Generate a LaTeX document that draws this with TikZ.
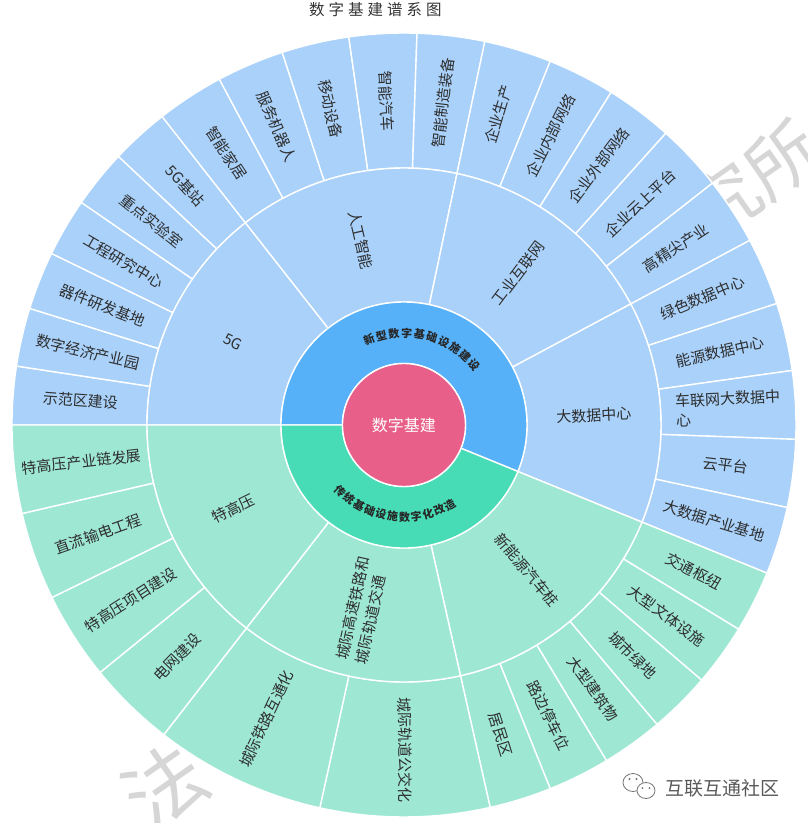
\documentclass[tikz,border=0pt]{standalone}
\usepackage{fontspec}
\setmainfont{Noto Sans CJK SC}
\usetikzlibrary{calc}
\pgfdeclarelayer{wm}
\pgfdeclarelayer{bg}
\pgfdeclarelayer{fg}
\pgfsetlayers{wm,bg,main,fg}
\definecolor{pinkc}{HTML}{E8608A}
\definecolor{blueii}{HTML}{56B1F9}
\definecolor{tealii}{HTML}{47DCB5}
\definecolor{blueo}{HTML}{A9D1FA}
\definecolor{tealo}{HTML}{9EE8D3}
\definecolor{txt}{HTML}{2E2E2E}
\newcommand\sbsector[5]{%
  \filldraw[fill=#1, draw=white, line width=1.4pt, line join=round]
    (#4:#2pt) arc[start angle=#4, end angle=#5, radius=#2pt]
    -- (#5:#3pt) arc[start angle=#5, end angle=#4, radius=#3pt] -- cycle;}
\newcommand\sbitem[8]{%
  \begin{pgfonlayer}{bg}\sbsector{#2}{#3}{#4}{#5}{#6}\end{pgfonlayer}
  \pgfmathsetmacro\sbmid{(#5+#6)/2}
  \pgfmathsetmacro\sbr{(#3+#4)/2}
  \pgfmathsetmacro\sbrot{cos(\sbmid)>=0 ? \sbmid : \sbmid+180}
  \node[lbl, rotate=\sbrot, #8] (#1) at (\sbmid:\sbr pt) {#7};}
\begin{document}
\begin{tikzpicture}[x=1pt,y=1pt,
  lbl/.style={font=\fontsize{15}{20}\selectfont, text=txt, inner sep=0pt, align=left},
  arclbl/.style={font=\fontsize{11}{12}\selectfont\bfseries, text=black!85, inner sep=0pt},
  titlelbl/.style={font=\fontsize{15.5}{17}\selectfont, text=black!80, inner sep=0pt},
  wmark/.style={font=\fontsize{72}{80}\selectfont, text=black!16, inner sep=0pt},
  brand/.style={font=\fontsize{19}{21}\selectfont, text=black!65, inner sep=0pt}]
\useasboundingbox (-404,-398) rectangle (404,425);
% title
\node[titlelbl] (title) at (-28.5,415) {数\hspace{4pt}字\hspace{4pt}基\hspace{4pt}建\hspace{4pt}谱\hspace{4pt}系\hspace{4pt}图};
% outer ring: 新型数字基础设施建设
\sbitem{o1}{blueo}{257}{392}{180}{171.35}{示范区建设}{}
\sbitem{o2}{blueo}{257}{392}{171.35}{162.7}{数字经济产业园}{}
\sbitem{o3}{blueo}{257}{392}{162.7}{154.05}{器件研发基地}{}
\sbitem{o4}{blueo}{257}{392}{154.05}{145.4}{工程研究中心}{}
\sbitem{o5}{blueo}{257}{392}{145.4}{136.75}{重点实验室}{}
\sbitem{o6}{blueo}{257}{392}{136.75}{128.1}{5G基站}{}
\sbitem{o7}{blueo}{257}{392}{128.1}{118.1}{智能家居}{}
\sbitem{o8}{blueo}{257}{392}{118.1}{108.1}{服务机器人}{}
\sbitem{o9}{blueo}{257}{392}{108.1}{98.1}{移动设备}{}
\sbitem{o10}{blueo}{257}{392}{98.1}{88.1}{智能汽车}{}
\sbitem{o11}{blueo}{257}{392}{88.1}{78.1}{智能制造装备}{}
\sbitem{o12}{blueo}{257}{392}{78.1}{68.1}{企业生产}{}
\sbitem{o13}{blueo}{257}{392}{68.1}{58.1}{企业内部网络}{}
\sbitem{o14}{blueo}{257}{392}{58.1}{48.1}{企业外部网络}{}
\sbitem{o15}{blueo}{257}{392}{48.1}{38.1}{企业云上平台}{}
\sbitem{o16}{blueo}{257}{392}{38.1}{28.1}{高精尖产业}{}
\sbitem{o17}{blueo}{257}{392}{28.1}{18.05}{绿色数据中心}{}
\sbitem{o18}{blueo}{257}{392}{18.05}{8.0}{能源数据中心}{}
\sbitem{o19}{blueo}{257}{392}{8.0}{-2.1}{车联网大数据中\\心}{}
\sbitem{o20}{blueo}{257}{392}{-2.1}{-12.15}{云平台}{}
\sbitem{o21}{blueo}{257}{392}{-12.15}{-22.2}{大数据产业基地}{}
% outer ring: 传统基础设施数字化改造
\sbitem{o22}{tealo}{257}{392}{-22.2}{-31.4}{交通枢纽}{}
\sbitem{o23}{tealo}{257}{392}{-31.4}{-40.6}{大型文体设施}{}
\sbitem{o24}{tealo}{257}{392}{-40.6}{-49.8}{城市绿地}{}
\sbitem{o25}{tealo}{257}{392}{-49.8}{-58.9}{大型建筑物}{}
\sbitem{o26}{tealo}{257}{392}{-58.9}{-68.1}{路边停车位}{}
\sbitem{o27}{tealo}{257}{392}{-68.1}{-77.3}{居民区}{}
\sbitem{o28}{tealo}{257}{392}{-77.3}{-102.4}{城际轨道公交化}{}
\sbitem{o29}{tealo}{257}{392}{-102.4}{-127.8}{城际铁路互通化}{}
\sbitem{o30}{tealo}{257}{392}{-127.8}{-140.85}{电网建设}{}
\sbitem{o31}{tealo}{257}{392}{-140.85}{-153.9}{特高压项目建设}{}
\sbitem{o32}{tealo}{257}{392}{-153.9}{-166.95}{直流输电工程}{}
\sbitem{o33}{tealo}{257}{392}{-166.95}{-180}{特高压产业链发展}{}
% third ring
\sbitem{m1}{blueo}{123}{257}{180}{128.1}{5G}{}
\sbitem{m2}{blueo}{123}{257}{128.1}{78.1}{人工智能}{}
\sbitem{m3}{blueo}{123}{257}{78.1}{28.1}{工业互联网}{}
\sbitem{m4}{blueo}{123}{257}{28.1}{-22.2}{大数据中心}{}
\sbitem{m5}{tealo}{123}{257}{-22.2}{-77.3}{新能源汽车桩}{}
\sbitem{m6}{tealo}{123}{257}{-77.3}{-127.8}{城际高速铁路和\\城际轨道交通}{}
\sbitem{m7}{tealo}{123}{257}{-127.8}{-180}{特高压}{}
% second ring
\begin{pgfonlayer}{bg}
\sbsector{blueii}{61.5}{123}{-22.2}{180}
\sbsector{tealii}{61.5}{123}{-180}{-22.2}
\filldraw[fill=pinkc, draw=white, line width=1.4pt] (0,0) circle[radius=61.5pt];
\end{pgfonlayer}
\foreach \c [count=\i from 0] in {新,型,数,字,基,础,设,施,建,设}{
  \pgfmathsetmacro\ang{112.3-8*\i}
  \node[arclbl, rotate=\ang-90] (ta\i) at (\ang:92pt) {\c};
}
\foreach \c [count=\i from 0] in {传,统,基,础,设,施,数,字,化,改,造}{
  \pgfmathsetmacro\ang{-134.1+7.4*\i}
  \node[arclbl, rotate=\ang+90] (tb\i) at (\ang:92pt) {\c};
}
\node[font=\fontsize{16}{18}\selectfont, text=white, inner sep=0pt] (root) at (0,0) {数字基建};
% watermark, behind the chart
\begin{pgfonlayer}{wm}
\begin{scope}
\clip (-404,-398) rectangle (404,425);
\node[wmark, rotate=35] (wm1) at (349,245) {究所};
\node[wmark, rotate=35, font=\fontsize{80}{88}\selectfont] (wm2) at (-239,-362) {法};
\end{scope}
\end{pgfonlayer}
\begin{pgfonlayer}{fg}
\node[brand] (brandtxt) at (318.5,-363) {互联互通社区};
\draw[black!55, fill=white, line width=0.8pt] (229,-357.5) ellipse[x radius=10pt, y radius=9pt];
\draw[black!55, fill=white, line width=0.8pt] (242,-365.5) ellipse[x radius=9pt, y radius=8pt];
\fill[black!55] (225.5,-354) circle[radius=1.1pt] (232.5,-354) circle[radius=1.1pt]
                (238.5,-363) circle[radius=1pt] (245.5,-363) circle[radius=1pt];
\end{pgfonlayer}
\end{tikzpicture}
\end{document}
